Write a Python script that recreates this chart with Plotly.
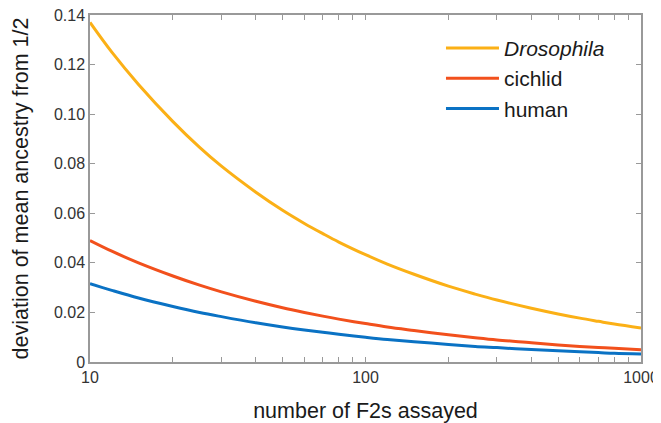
import plotly.graph_objects as go

# Data
n_f2 = [10, 12, 15, 20, 25, 30, 40, 50, 60, 70, 80, 100, 120, 150, 200, 250, 300, 400, 500, 600, 700, 800, 1000]
drosophila = [0.137, 0.125, 0.112, 0.097, 0.0866, 0.079, 0.0685, 0.0612, 0.0559, 0.0518, 0.0484, 0.0433,
              0.0395, 0.0354, 0.0306, 0.0274, 0.025, 0.0217, 0.0194, 0.0177, 0.0164, 0.0153, 0.0137]
cichlid = [0.049, 0.0447, 0.040, 0.0347, 0.031, 0.0283, 0.0245, 0.0219, 0.020, 0.0185, 0.0173, 0.0155,
           0.0141, 0.0127, 0.011, 0.0098, 0.0089, 0.0078, 0.0069, 0.0063, 0.0059, 0.0055, 0.0049]
human = [0.0316, 0.0289, 0.0258, 0.0224, 0.020, 0.0183, 0.0158, 0.0141, 0.0129, 0.012, 0.0112, 0.010,
         0.0091, 0.0082, 0.0071, 0.0063, 0.0058, 0.005, 0.0045, 0.0041, 0.0038, 0.0035, 0.0032]

x_tickvals = [10, 20, 30, 40, 50, 60, 70, 80, 90, 100, 200, 300, 400, 500, 600, 700, 800, 900, 1000]
x_ticktext = ["10", "", "", "", "", "", "", "", "", "100", "", "", "", "", "", "", "", "", "1000"]
y_tickvals = [0, 0.02, 0.04, 0.06, 0.08, 0.10, 0.12, 0.14]
y_ticktext = ["0", "0.02", "0.04", "0.06", "0.08", "0.10", "0.12", "0.14"]

font = "Liberation Sans, Arial, Helvetica, sans-serif"

fig = go.Figure()
fig.add_trace(go.Scatter(x=n_f2, y=drosophila, mode="lines", name="<i>Drosophila</i>", legendgroup="a",
                         line=dict(color="#FBB016", width=3, shape="spline")))
fig.add_trace(go.Scatter(x=n_f2, y=cichlid, mode="lines", name="cichlid", legendgroup="b",
                         line=dict(color="#F2501C", width=3, shape="spline")))
fig.add_trace(go.Scatter(x=n_f2, y=human, mode="lines", name="human", legendgroup="c",
                         line=dict(color="#0A72C4", width=3, shape="spline")))

axis_common = dict(showline=True, linecolor="#999999", linewidth=1.5, mirror="ticks",
                   ticks="inside", ticklen=5, tickcolor="#999999", showgrid=False, zeroline=False,
                   automargin=False, ticklabeloverflow="allow",
                   tickfont=dict(size=16, color="#333333", family=font))

fig.update_xaxes(type="log", range=[1, 3], tickmode="array", tickvals=x_tickvals, ticktext=x_ticktext,
                 title=dict(text="number of F2s assayed", font=dict(size=21.5, color="#1a1a1a", family=font), standoff=18),
                 **axis_common)
fig.update_yaxes(range=[0, 0.14], tickmode="array", tickvals=y_tickvals, ticktext=y_ticktext,
                 title=dict(text="deviation of mean ancestry from 1/2", font=dict(size=21.5, color="#1a1a1a", family=font), standoff=19),
                 **axis_common)

# The page body has an 8px margin, so the figure is offset to land the plot area where the reference has it.
fig.update_layout(
    width=653, height=415,
    margin=dict(l=82, r=20, t=7, b=61),
    paper_bgcolor="white", plot_bgcolor="white",
    font=dict(family=font),
    legend=dict(x=0.637, y=0.963, xanchor="left", yanchor="top", bgcolor="rgba(0,0,0,0)",
                itemwidth=53, tracegroupgap=0,
                font=dict(size=21, color="#1a1a1a", family=font)),
)

fig.write_html("out.html")
